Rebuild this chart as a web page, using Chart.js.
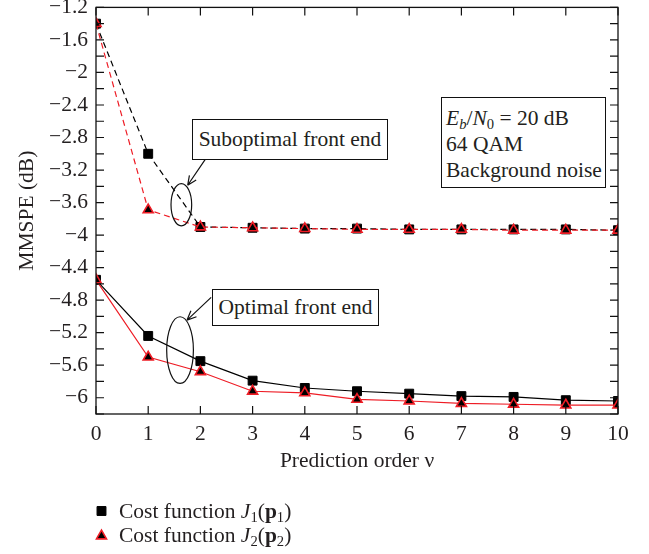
<!DOCTYPE html>
<html><head><meta charset="utf-8">
<script src="https://cdn.jsdelivr.net/npm/chart.js@4/dist/chart.umd.min.js"></script>
<style>
html,body{margin:0;padding:0;background:#fff;}
#wrap{position:relative;width:649px;height:554px;font-family:"Liberation Serif","Times New Roman",serif;color:#231f20;}
#c{position:absolute;left:0;top:0;}
.box{position:absolute;border:1.3px solid #111;background:#fff;font-size:21.5px;box-sizing:border-box;white-space:nowrap;}
.center{display:flex;align-items:center;justify-content:center;}
sub{font-size:68%;vertical-align:-0.28em;line-height:0;}
.leg{position:absolute;left:119px;font-size:21.5px;line-height:24px;white-space:nowrap;}
</style>
</head><body>
<div id="wrap">
<canvas id="c" width="649" height="554"></canvas>
<div class="box center" style="left:192px;top:119px;width:196px;height:41px;">Suboptimal front end</div>
<div class="box center" style="left:212px;top:289px;width:167px;height:37px;">Optimal front end</div>
<div class="box" style="left:441px;top:97px;width:165px;height:91px;padding:7px 0 0 4px;line-height:26px;">
<div><i>E</i><sub><i>b</i></sub>/<i>N</i><sub>0</sub> = 20 dB</div>
<div>64 QAM</div>
<div>Background noise</div>
</div>
<div class="leg" style="top:499px;">Cost function <i>J</i><sub>1</sub>(<b>p</b><sub>1</sub>)</div>
<div class="leg" style="top:523px;">Cost function <i>J</i><sub>2</sub>(<b>p</b><sub>2</sub>)</div>
</div>
<script>
// ---- data ----
const orders = [0,1,2,3,4,5,6,7,8,9,10];
const j1Optimal    = [-4.55,-5.24,-5.55,-5.79,-5.88,-5.92,-5.95,-5.98,-5.99,-6.03,-6.04];
const j2Optimal    = [-4.55,-5.50,-5.68,-5.92,-5.94,-6.02,-6.04,-6.07,-6.08,-6.09,-6.09];
const j1Suboptimal = [-1.40,-3.00,-3.90,-3.91,-3.92,-3.92,-3.93,-3.93,-3.93,-3.93,-3.94];
const j2Suboptimal = [-1.40,-3.69,-3.90,-3.91,-3.92,-3.93,-3.93,-3.93,-3.94,-3.94,-3.94];
const yTickValues = [-1.2,-1.6,-2,-2.4,-2.8,-3.2,-3.6,-4,-4.4,-4.8,-5.2,-5.6,-6];
const yTickLabels = ['\u22121.2','\u22121.6','\u22122','\u22122.4','\u22122.8','\u22123.2','\u22123.6','\u22124','\u22124.4','\u22124.8','\u22125.2','\u22125.6','\u22126'];
const xTickLabels = ['0','1','2','3','4','5','6','7','8','9','10'];

const RED = '#ee1c25';
const BLACK = '#000';
const FONT = '"Liberation Serif","Times New Roman",serif';
const FS = 21.5;

function pts(ys){ return orders.map((x,i)=>({x:x,y:ys[i]})); }

const sqStyle = {pointStyle:'rect', pointRadius:6.3, pointBackgroundColor:BLACK, pointBorderColor:BLACK, pointBorderWidth:1};
const triStyle = {pointStyle:'triangle', pointRadius:5.8, pointBackgroundColor:BLACK, pointBorderColor:RED, pointBorderWidth:1.6};

const frame = {
  id:'frame',
  afterDraw(chart){
    const ctx = chart.ctx, a = chart.chartArea;
    const xs = chart.scales.x, ys = chart.scales.y;
    ctx.save();
    ctx.strokeStyle = '#111'; ctx.lineWidth = 1.3;
    ctx.strokeRect(a.left, a.top, a.right-a.left, a.bottom-a.top);
    ctx.lineWidth = 1.2;
    const tl = 8;
    ctx.beginPath();
    orders.forEach(v=>{
      const px = xs.getPixelForValue(v);
      ctx.moveTo(px, a.bottom); ctx.lineTo(px, a.bottom - tl);
      ctx.moveTo(px, a.top); ctx.lineTo(px, a.top + tl);
    });
    for (let k=0;k<=25;k++){
      const v = -6.2 + k*0.2;
      const py = ys.getPixelForValue(v);
      ctx.moveTo(a.left, py); ctx.lineTo(a.left + tl, py);
      ctx.moveTo(a.right, py); ctx.lineTo(a.right - tl, py);
    }
    ctx.stroke();
    // annotation ellipses and arrows
    ctx.strokeStyle = '#111'; ctx.lineWidth = 1.2;
    const ell = (cx,cy,rx,ry)=>{
      const px = xs.getPixelForValue(cx), py = ys.getPixelForValue(cy);
      const rpx = Math.abs(xs.getPixelForValue(cx+rx)-px), rpy = Math.abs(ys.getPixelForValue(cy+ry)-py);
      ctx.beginPath(); ctx.ellipse(px,py,rpx,rpy,0,0,Math.PI*2); ctx.stroke();
    };
    const arrow = (x0,y0,x1,y1)=>{
      const p0x = xs.getPixelForValue(x0), p0y = ys.getPixelForValue(y0);
      const p1x = xs.getPixelForValue(x1), p1y = ys.getPixelForValue(y1);
      const ang = Math.atan2(p1y-p0y, p1x-p0x);
      ctx.beginPath(); ctx.moveTo(p0x,p0y); ctx.lineTo(p1x,p1y);
      const h = 10, s = 0.42;
      ctx.moveTo(p1x,p1y); ctx.lineTo(p1x - h*Math.cos(ang-s), p1y - h*Math.sin(ang-s));
      ctx.moveTo(p1x,p1y); ctx.lineTo(p1x - h*Math.cos(ang+s), p1y - h*Math.sin(ang+s));
      ctx.stroke();
    };
    ell(1.635,-3.626,0.198,0.26);
    arrow(2.09,-3.071,1.756,-3.387);
    ell(1.61,-5.414,0.256,0.41);
    arrow(2.206,-4.766,1.744,-5.045);
    // legend markers
    ctx.lineWidth = 1;
    ctx.fillStyle = BLACK; ctx.strokeStyle = BLACK;
    Chart.helpers.drawPoint(ctx, {pointStyle:'rect', radius:6.3, rotation:0, borderWidth:1}, 101.5, 511);
    ctx.fillStyle = BLACK; ctx.strokeStyle = RED; ctx.lineWidth = 1.6;
    Chart.helpers.drawPoint(ctx, {pointStyle:'triangle', radius:5.8, rotation:0, borderWidth:1.6}, 101.5, 536);
    ctx.restore();
  }
};

new Chart(document.getElementById('c'), {
  type:'line',
  data:{ datasets:[
    Object.assign({label:'J1 optimal', data:pts(j1Optimal), borderColor:BLACK, borderWidth:1.2, order:1}, sqStyle),
    Object.assign({label:'J2 optimal', data:pts(j2Optimal), borderColor:RED, borderWidth:1.2, order:0}, triStyle),
    Object.assign({label:'J1 suboptimal', data:pts(j1Suboptimal), borderColor:BLACK, borderWidth:1.2, borderDash:[6,4], order:1}, sqStyle),
    Object.assign({label:'J2 suboptimal', data:pts(j2Suboptimal), borderColor:RED, borderWidth:1.2, borderDash:[6,4], order:0}, triStyle)
  ]},
  options:{
    responsive:false, animation:false, devicePixelRatio:1,
    layout:{padding:{top:7,right:31,bottom:78,left:0}},
    plugins:{legend:{display:false}, tooltip:{enabled:false}},
    elements:{line:{tension:0}},
    scales:{
      x:{type:'linear', min:0, max:10,
        afterFit(s){ s.height = 62; s.paddingLeft = 0; s.paddingRight = 0; },
        afterBuildTicks(s){ s.ticks = orders.map(v=>({value:v})); },
        ticks:{callback:(v,i)=>xTickLabels[i], font:{family:FONT,size:FS}, color:'#231f20', padding:7, maxRotation:0, autoSkip:false},
        grid:{display:false, drawTicks:false}, border:{display:false},
        title:{display:true, text:'Prediction order \u03bd', font:{family:FONT,size:FS}, color:'#231f20', padding:{top:0,bottom:2}}
      },
      y:{type:'linear', min:-6.2, max:-1.2,
        afterFit(s){ s.width = 96; s.paddingTop = 0; s.paddingBottom = 0; },
        afterBuildTicks(s){ s.ticks = yTickValues.map(v=>({value:v})); },
        ticks:{callback:(v,i)=>yTickLabels[i], font:{family:FONT,size:FS}, color:'#231f20', padding:8, autoSkip:false},
        grid:{display:false, drawTicks:false}, border:{display:false},
        title:{display:true, text:'MMSPE (dB)', font:{family:FONT,size:FS}, color:'#231f20', padding:{top:14,bottom:0}}
      }
    }
  },
  plugins:[frame]
});
</script>
</body></html>
